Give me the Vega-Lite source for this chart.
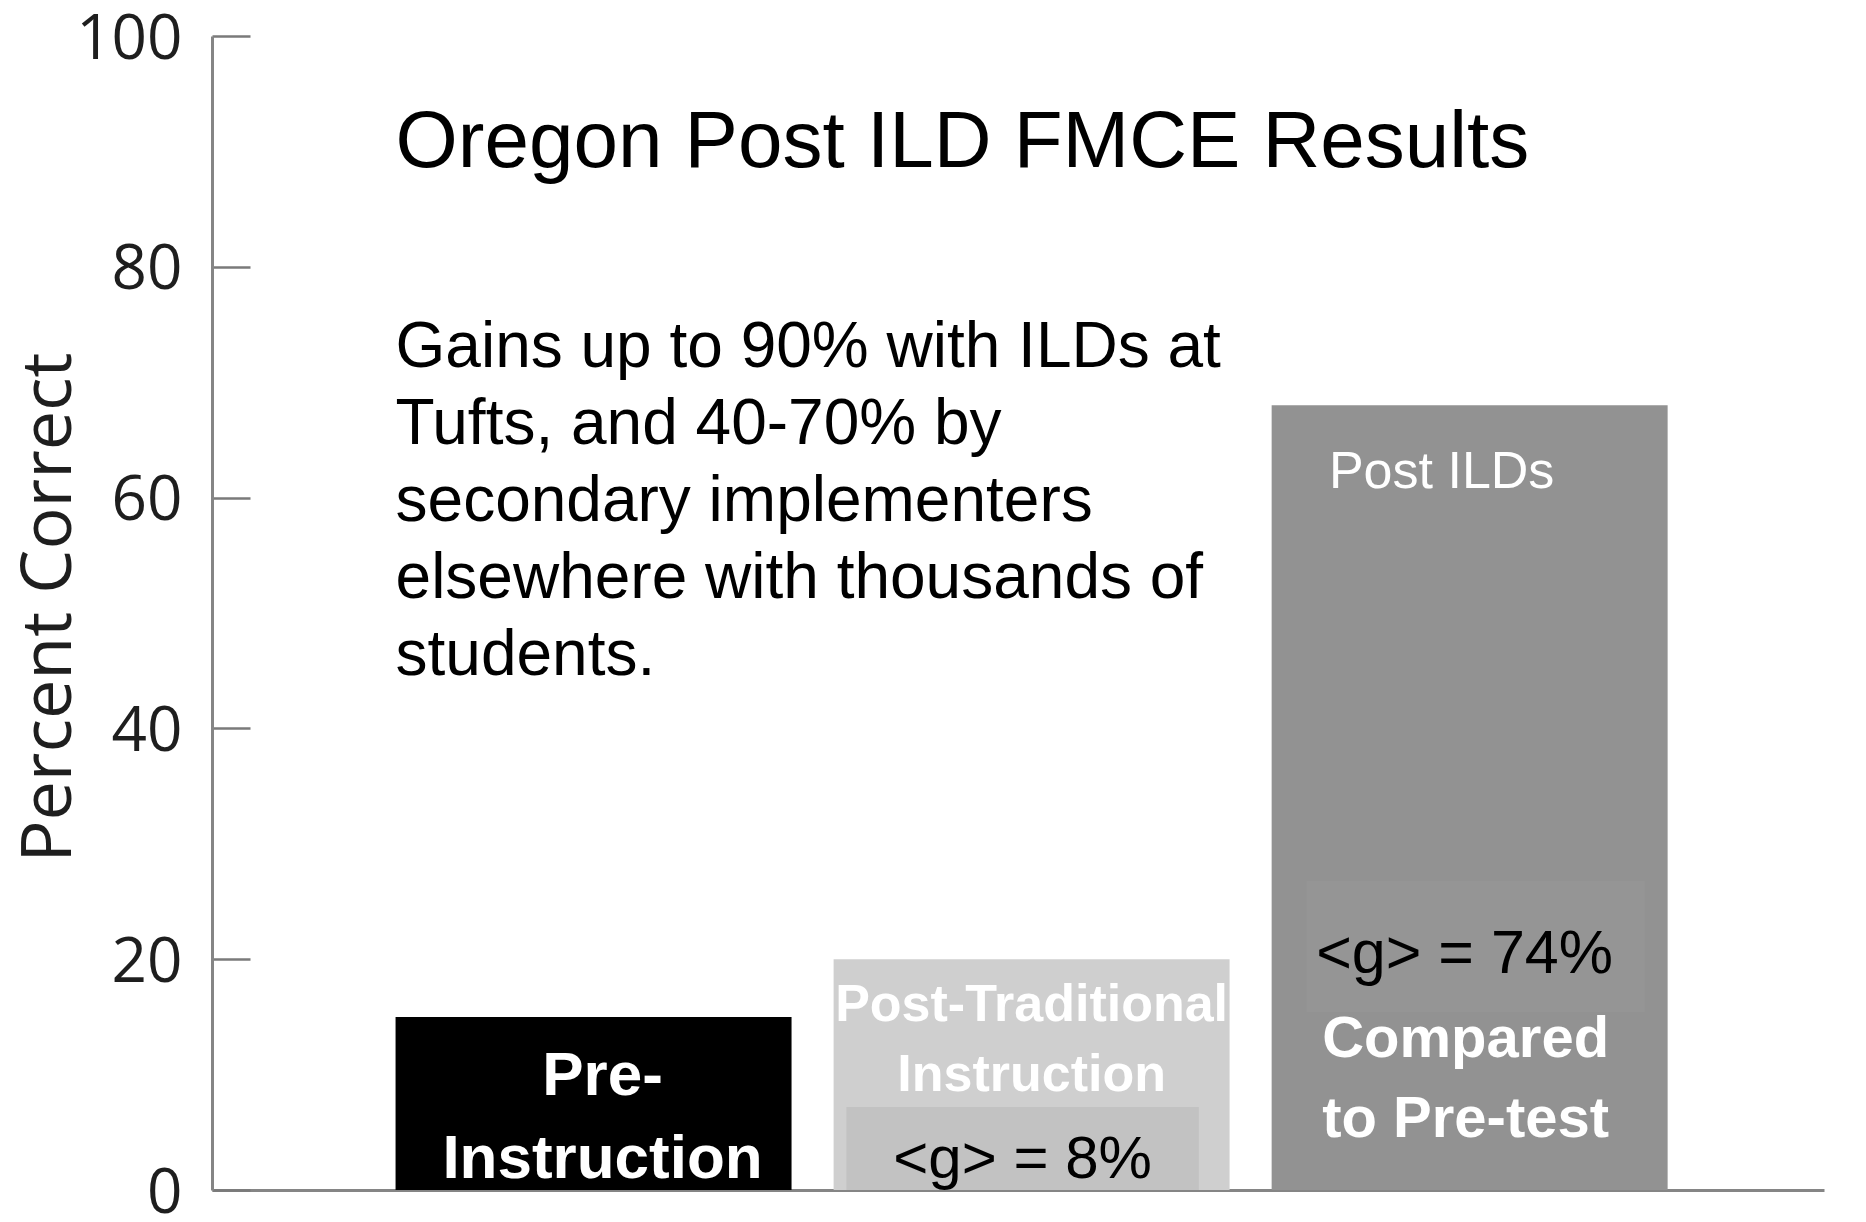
{
  "$schema": "https://vega.github.io/schema/vega-lite/v6.json",
  "width": 1612,
  "height": 1154,
  "autosize": "none",
  "padding": {"left": 212, "top": 36, "right": 42, "bottom": 32},
  "background": "white",
  "config": {"view": {"stroke": null}},
  "layer": [
    {
      "data": {"values": [
        {"group": "Pre-Instruction", "pct": 15},
        {"group": "Post-Traditional Instruction", "pct": 20},
        {"group": "Post ILDs", "pct": 68}
      ]},
      "mark": {"type": "bar"},
      "encoding": {
        "x": {
          "field": "group", "type": "nominal",
          "scale": {"domain": ["Pre-Instruction", "Post-Traditional Instruction", "Post ILDs"], "paddingInner": 0.096, "paddingOuter": 0.388, "align": 0.54},
          "axis": {"title": null, "labels": false, "ticks": false, "domainColor": "#858585", "domainWidth": 3}
        },
        "y": {
          "field": "pct", "type": "quantitative",
          "scale": {"domain": [0, 100], "nice": false},
          "axis": {
            "values": [0, 20, 40, 60, 80, 100],
            "grid": false,
            "title": "Percent Correct",
            "titleFont": "Open Sans", "titleFontSize": 70, "titleFontWeight": "normal", "titleColor": "#1e1e1e",
            "titleAngle": -90, "titleX": -142, "titleY": 571, "titleAlign": "center", "titleBaseline": "alphabetic",
            "labelFont": "Open Sans", "labelFontSize": 62, "labelColor": "#1e1e1e", "labelPadding": 68, "labelOffset": 3,
            "tickSize": -38, "tickColor": "#7a7a7a", "tickWidth": 2.5,
            "domainColor": "#858585", "domainWidth": 3
          }
        },
        "color": {
          "field": "group", "type": "nominal",
          "scale": {"domain": ["Pre-Instruction", "Post-Traditional Instruction", "Post ILDs"], "range": ["#000000", "#cfcfcf", "#929292"]},
          "legend": null
        }
      }
    },
    {
      "data": {"values": [{"group": "Post-Traditional Instruction", "lo": 0, "hi": 7.2}]},
      "mark": {"type": "bar", "width": {"band": 0.89}, "xOffset": -9, "color": "#c2c2c2"},
      "encoding": {
        "x": {"field": "group", "type": "nominal"},
        "y": {"field": "lo", "type": "quantitative"},
        "y2": {"field": "hi"}
      }
    },
    {
      "data": {"values": [{"group": "Post ILDs", "lo": 15.4, "hi": 26.8}]},
      "mark": {"type": "bar", "width": {"band": 0.854}, "xOffset": 6, "color": "#959595"},
      "encoding": {
        "x": {"field": "group", "type": "nominal"},
        "y": {"field": "lo", "type": "quantitative"},
        "y2": {"field": "hi"}
      }
    },
    {
      "data": {"values": [{"group": "Pre-Instruction", "v": 88.65, "label": "Oregon Post ILD FMCE Results"}]},
      "mark": {"type": "text", "align": "left", "baseline": "alphabetic", "font": "Liberation Sans", "fontSize": 80, "color": "#000000"},
      "encoding": {
        "x": {"field": "group", "type": "nominal", "bandPosition": 0},
        "y": {"field": "v", "type": "quantitative"},
        "text": {"field": "label"}
      }
    },
    {
      "data": {"values": [{"group": "Pre-Instruction", "v": 71.3, "label": ["Gains up to 90% with ILDs at", "Tufts, and 40-70% by", "secondary implementers", "elsewhere with thousands of", "students."]}]},
      "mark": {"type": "text", "align": "left", "baseline": "alphabetic", "font": "Liberation Sans", "fontSize": 64, "lineHeight": 77, "color": "#000000"},
      "encoding": {
        "x": {"field": "group", "type": "nominal", "bandPosition": 0},
        "y": {"field": "v", "type": "quantitative"},
        "text": {"field": "label"}
      }
    },
    {
      "data": {"values": [{"group": "Pre-Instruction", "v": 8.23, "label": ["Pre-", "Instruction"]}]},
      "mark": {"type": "text", "align": "center", "baseline": "alphabetic", "font": "Liberation Sans", "fontWeight": "bold", "fontSize": 62, "lineHeight": 83, "dx": 9, "color": "#ffffff"},
      "encoding": {
        "x": {"field": "group", "type": "nominal"},
        "y": {"field": "v", "type": "quantitative"},
        "text": {"field": "label"}
      }
    },
    {
      "data": {"values": [{"group": "Post-Traditional Instruction", "v": 14.64, "label": ["Post-Traditional", "Instruction"]}]},
      "mark": {"type": "text", "align": "center", "baseline": "alphabetic", "font": "Liberation Sans", "fontWeight": "bold", "fontSize": 52, "lineHeight": 70, "color": "#ffffff"},
      "encoding": {
        "x": {"field": "group", "type": "nominal"},
        "y": {"field": "v", "type": "quantitative"},
        "text": {"field": "label"}
      }
    },
    {
      "data": {"values": [{"group": "Post-Traditional Instruction", "v": 1.04, "label": "<g> = 8%"}]},
      "mark": {"type": "text", "align": "center", "baseline": "alphabetic", "font": "Liberation Sans", "fontSize": 60, "dx": -9, "color": "#000000"},
      "encoding": {
        "x": {"field": "group", "type": "nominal"},
        "y": {"field": "v", "type": "quantitative"},
        "text": {"field": "label"}
      }
    },
    {
      "data": {"values": [{"group": "Post ILDs", "v": 60.8, "label": "Post ILDs"}]},
      "mark": {"type": "text", "align": "center", "baseline": "alphabetic", "font": "Liberation Sans", "fontSize": 52, "dx": -28, "color": "#ffffff"},
      "encoding": {
        "x": {"field": "group", "type": "nominal"},
        "y": {"field": "v", "type": "quantitative"},
        "text": {"field": "label"}
      }
    },
    {
      "data": {"values": [{"group": "Post ILDs", "v": 18.8, "label": "<g> = 74%"}]},
      "mark": {"type": "text", "align": "center", "baseline": "alphabetic", "font": "Liberation Sans", "fontSize": 61, "dx": -5, "color": "#000000"},
      "encoding": {
        "x": {"field": "group", "type": "nominal"},
        "y": {"field": "v", "type": "quantitative"},
        "text": {"field": "label"}
      }
    },
    {
      "data": {"values": [{"group": "Post ILDs", "v": 11.5, "label": ["Compared", "to Pre-test"]}]},
      "mark": {"type": "text", "align": "center", "baseline": "alphabetic", "font": "Liberation Sans", "fontWeight": "bold", "fontSize": 58, "lineHeight": 80, "dx": -4, "color": "#ffffff"},
      "encoding": {
        "x": {"field": "group", "type": "nominal"},
        "y": {"field": "v", "type": "quantitative"},
        "text": {"field": "label"}
      }
    }
  ]
}
